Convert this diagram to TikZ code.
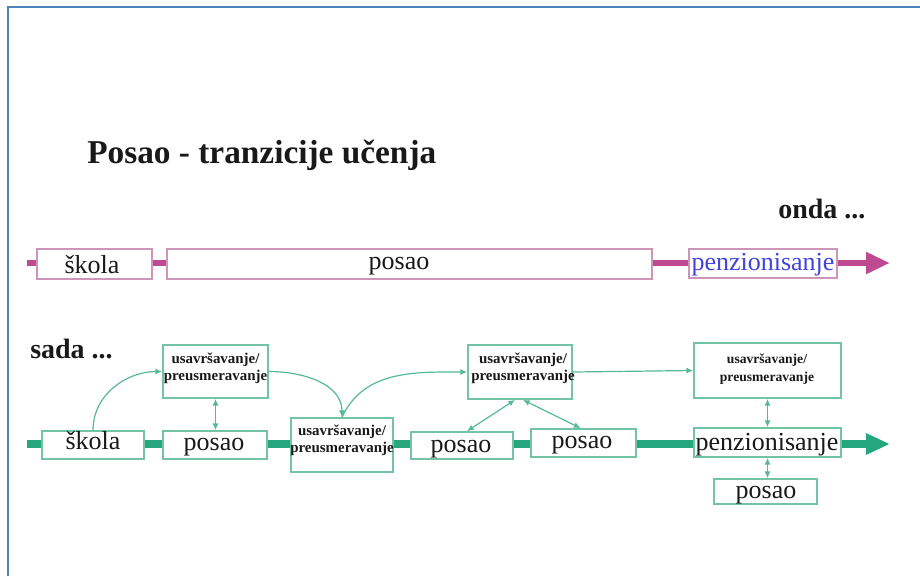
\documentclass[tikz,border=0pt]{standalone}
\usepackage{fontspec}
\setmainfont{Liberation Serif}
\usetikzlibrary{arrows.meta,calc,fit}

\definecolor{framec}{RGB}{79,129,189}
\definecolor{magline}{RGB}{192,74,146}
\definecolor{magbox}{RGB}{205,150,185}
\definecolor{penzblue}{RGB}{66,66,224}
\definecolor{grnline}{RGB}{38,166,124}
\definecolor{grnbox}{RGB}{115,195,165}
\definecolor{grnarrow}{RGB}{85,185,150}
\definecolor{ink}{RGB}{25,25,25}

\begin{document}
\begin{tikzpicture}[x=0.75pt,y=-0.75pt,
  pbox/.style={draw=magbox, line width=1.2pt, fill=white, inner sep=0pt},
  gbox/.style={draw=grnbox, line width=1.3pt, fill=white, inner sep=0pt},
  bigtxt/.style={font=\fontsize{19.5pt}{22pt}\selectfont, text=ink, inner sep=0pt, anchor=base},
  utxt/.style={font=\bfseries\fontsize{11.2pt}{13pt}\selectfont, text=ink, align=center, inner sep=0pt},
  headtxt/.style={font=\bfseries\fontsize{21pt}{24pt}\selectfont, text=ink, inner sep=0pt, anchor=base west},
  magrail/.style={draw=magline, line width=5.2pt, -{Triangle[length=18pt,width=15.5pt]}},
  grnrail/.style={draw=grnline, line width=5.6pt, -{Triangle[length=18pt,width=15pt]}},
  link/.style={draw=grnarrow, line width=0.9pt, -{Latex[length=5pt,width=4.5pt]}},
  dlink/.style={draw=grnarrow, line width=0.9pt, {Latex[length=5pt,width=4.5pt]}-{Latex[length=5pt,width=4.5pt]}},
]
\useasboundingbox (0,0) rectangle (920,576);

% page frame
\draw[framec, line width=2.2pt] (8,576) -- (8,7) -- (920,7);

% headings
\node[headtxt, font=\bfseries\fontsize{25pt}{28pt}\selectfont] (title) at (87,163) {Posao - tranzicije učenja};
\node[headtxt] (onda) at (778,218) {onda ...};
\node[headtxt] (sada) at (30,358) {sada ...};

% time rails
\coordinate (railAs) at (27,263);
\coordinate (railAe) at (890,263);
\coordinate (railBs) at (27,444);
\coordinate (railBe) at (890,444);
\draw[magrail] (railAs) -- (railAe);
\draw[grnrail] (railBs) -- (railBe);

% traditional path
\node[pbox, fit={(37,249)(152,279)}] (skA) {};
\node[pbox, fit={(167,249)(652,279)}] (poA) {};
\node[pbox, fit={(689,249)(837,278)}] (peA) {};
\node[bigtxt] (skAt) at (92,273) {škola};
\node[bigtxt] (poAt) at (399,269) {posao};
\node[bigtxt, text=penzblue] (peAt) at (763,270) {penzionisanje};

% present-day path
\node[gbox, fit={(42,431)(144,459)}] (sk) {};
\node[gbox, fit={(163,431)(267,459)}] (p1) {};
\node[gbox, fit={(163,345)(268,398)}] (u1) {};
\node[gbox, fit={(291,418)(393,472)}] (u2) {};
\node[gbox, fit={(411,432)(513,459)}] (p2) {};
\node[gbox, fit={(531,429)(636,457)}] (p3) {};
\node[gbox, fit={(468,345)(572,399)}] (u3) {};
\node[gbox, fit={(694,343)(841,398)}] (u4) {};
\node[gbox, fit={(694,428)(841,457)}] (pz) {};
\node[gbox, fit={(714,479)(817,504)}] (p4) {};

% links between stages
\draw[link] (sk.north) to[out=90,in=180] (u1.west);
\draw[dlink] (u1.south) -- (u1.south |- p1.north);
\draw[link] (u1.east) to[out=0,in=90] (u2.north);
\draw[link] (u2.north) to[out=65,in=180] (u3.west);
\draw[dlink] ($(u3.south)+(-5,0)$) -- ($(p2.north)+(5,0)$);
\draw[dlink] ($(u3.south)+(3,0)$) -- ($(p3.north)+(-3,0)$);
\draw[link] (u3.east) -- (u4.west);
\draw[dlink] (u4.south) -- (u4.south |- pz.north);
\draw[dlink] (pz.south) -- (pz.south |- p4.north);

% labels
\node[bigtxt] (skt) at (93,449) {škola};
\node[bigtxt] (p1t) at (214,450) {posao};
\node[bigtxt] (p2t) at (461,452) {posao};
\node[bigtxt] (p3t) at (582,448) {posao};
\node[bigtxt] (pzt) at (767,450) {penzionisanje};
\node[bigtxt] (p4t) at (766,498) {posao};
\node[utxt] (u1t) at (215.5,368) {usavršavanje/\\preusmeravanje};
\node[utxt] (u2t) at (342,440) {usavršavanje/\\preusmeravanje};
\node[utxt] (u3t) at (523,368) {usavršavanje/\\preusmeravanje};
\node[utxt, font=\bfseries\fontsize{10.2pt}{13pt}\selectfont] (u4t) at (767,369) {usavršavanje/\\preusmeravanje};
\end{tikzpicture}
\end{document}
